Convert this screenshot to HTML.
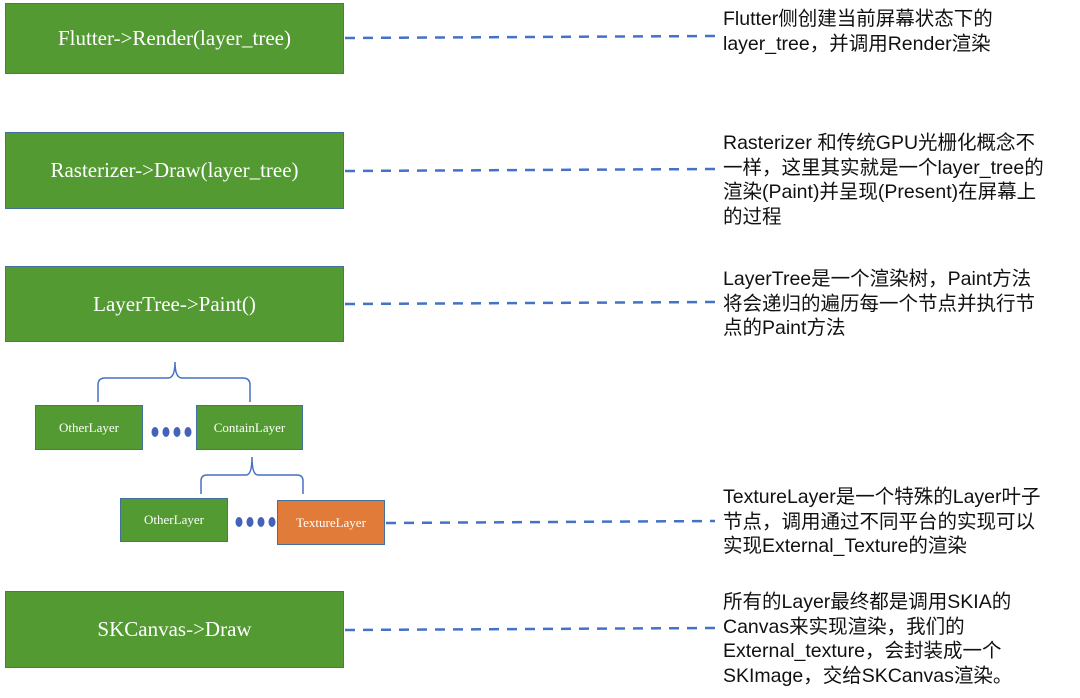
<!DOCTYPE html>
<html><head><meta charset="utf-8"><style>
body{margin:0;width:1080px;height:698px;background:#fff;position:relative;overflow:hidden;font-family:"Liberation Serif",serif}
.b{position:absolute;background:#539a33;border:1.5px solid #41719c;color:#fff;display:flex;align-items:center;justify-content:center;box-sizing:border-box}
.big{left:5px;width:339px;font-size:21px}
.s{font-size:13px}
.t{position:absolute;left:723px;font-family:"Liberation Sans","Noto Sans CJK SC",sans-serif;font-size:19.5px;line-height:24.5px;color:#111;white-space:nowrap}
</style></head><body>
<div class="b big" style="top:3px;height:71px">Flutter-&gt;Render(layer_tree)</div>
<div class="b big" style="top:132px;height:77px">Rasterizer-&gt;Draw(layer_tree)</div>
<div class="b big" style="top:266px;height:76px">LayerTree-&gt;Paint()</div>
<div class="b big" style="top:591px;height:77px">SKCanvas-&gt;Draw</div>
<div class="b s" style="left:35px;top:405px;width:108px;height:45px">OtherLayer</div>
<div class="b s" style="left:196px;top:405px;width:107px;height:45px">ContainLayer</div>
<div class="b s" style="left:120px;top:498px;width:108px;height:44px">OtherLayer</div>
<div class="b s" style="left:277px;top:500px;width:108px;height:45px;background:#e07b39">TextureLayer</div>
<svg width="1080" height="698" style="position:absolute;left:0;top:0">
<g stroke="#4472c4" stroke-width="2.5" stroke-dasharray="10,8" fill="none">
<line x1="345" y1="38" x2="715" y2="36"/>
<line x1="345" y1="171" x2="715" y2="169"/>
<line x1="345" y1="304" x2="715" y2="302"/>
<line x1="386" y1="523" x2="715" y2="521"/>
<line x1="345" y1="630" x2="715" y2="628"/>
</g>
<g stroke="#4472c4" stroke-width="1.5" fill="none">
<path d="M98 402 V385 Q98 378 105 378 H168 Q175 378 175 362 Q175 378 182 378 H243 Q250 378 250 385 V402"/>
<path d="M201 494 V481 Q201 475 207 475 H246 Q252 475 252 457 Q252 475 258 475 H297 Q303 475 303 481 V494"/>
</g>
<g fill="#4462b8">
<ellipse cx="155" cy="432" rx="3.5" ry="5"/><ellipse cx="166" cy="432" rx="3.5" ry="5"/><ellipse cx="177" cy="432" rx="3.5" ry="5"/><ellipse cx="188" cy="432" rx="3.5" ry="5"/>
<ellipse cx="239" cy="522" rx="3.5" ry="5"/><ellipse cx="250" cy="522" rx="3.5" ry="5"/><ellipse cx="261" cy="522" rx="3.5" ry="5"/><ellipse cx="272" cy="522" rx="3.5" ry="5"/>
</g>
</svg>
<div class="t" style="top:7px">Flutter侧创建当前屏幕状态下的<br>layer_tree，并调用Render渲染</div>
<div class="t" style="top:131px">Rasterizer 和传统GPU光栅化概念不<br>一样，这里其实就是一个layer_tree的<br>渲染(Paint)并呈现(Present)在屏幕上<br>的过程</div>
<div class="t" style="top:267px">LayerTree是一个渲染树，Paint方法<br>将会递归的遍历每一个节点并执行节<br>点的Paint方法</div>
<div class="t" style="top:485px">TextureLayer是一个特殊的Layer叶子<br>节点，调用通过不同平台的实现可以<br>实现External_Texture的渲染</div>
<div class="t" style="top:590px">所有的Layer最终都是调用SKIA的<br>Canvas来实现渲染，我们的<br>External_texture，会封装成一个<br>SKImage，交给SKCanvas渲染。</div>
</body></html>
